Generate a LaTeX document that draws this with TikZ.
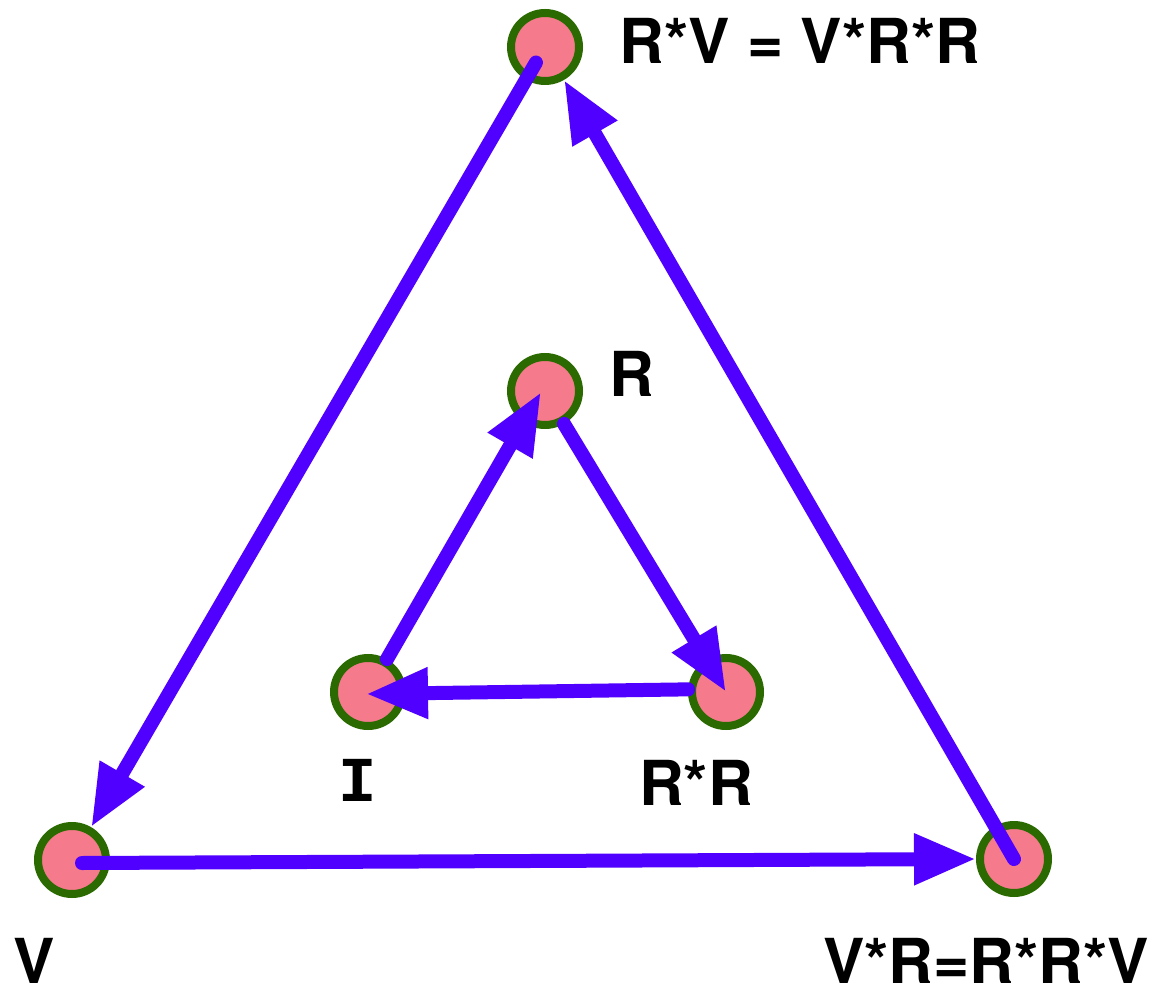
\documentclass[tikz,border=0pt]{standalone}
\usepackage{fontspec}
\setmainfont{TeX Gyre Heros}
\newfontfamily\monofont{Liberation Mono}
\usepackage{xcolor}
\usepackage{tikz}
\usetikzlibrary{calc, arrows.meta, positioning}

\definecolor{nodefill}{RGB}{245,122,139}
\definecolor{nodeedge}{RGB}{42,106,0}
\definecolor{arrowblue}{RGB}{80,0,255}

\begin{document}
\begin{tikzpicture}[x=0.5pt, y=-0.5pt,
    state/.style={circle, draw=nodeedge, fill=nodefill, line width=4pt,
        minimum size=34pt, inner sep=0pt},
    lbl/.style={inner sep=0pt, font=\fontsize{31}{36}\selectfont\bfseries},
    link/.style={-{Triangle[length=31pt, width=24pt]}, line width=7pt,
        draw=arrowblue, line cap=round}]
    \useasboundingbox (0,0) rectangle (1155,988);

    % Các đỉnh
    \node[state] (RV) at (545,47) {};
    \node[state] (R)  at (545,391) {};
    \node[state] (I)  at (368,692) {};
    \node[state] (RR) at (726,692) {};
    \node[state] (V)  at (72,860) {};
    \node[state] (VR) at (1014,859) {};

    % Nhãn
    \node[lbl] (RVlbl) at (800,41) {R*V = V*R*R};
    \node[lbl] (Rlbl)  at (632,374) {R};
    \node[lbl, font=\fontsize{32}{36}\selectfont\monofont\bfseries] (Ilbl) at (358,780) {I};
    \node[lbl] (RRlbl) at (696,783) {R*R};
    \node[lbl] (Vlbl)  at (34,961) {V};
    \node[lbl] (VRlbl) at (986,961) {V*R=R*R*V};

    % Tam giác ngoài
    \draw[link] ($(RV.center)!9pt!(V.center)$) -- (V);
    \draw[link] ($(V.center)+(10,3)$) -- (VR.west);
    \draw[link] (VR.center) -- (RV);

    % Tam giác trong
    \draw[link] (R.-60) -- (RR.center);
    \draw[link] (RR.176) -- ($(I.center)+(-2,2)$);
    \draw[link] (I.60) -- ($(R.center)+(-4,1)$);
\end{tikzpicture}
\end{document}
